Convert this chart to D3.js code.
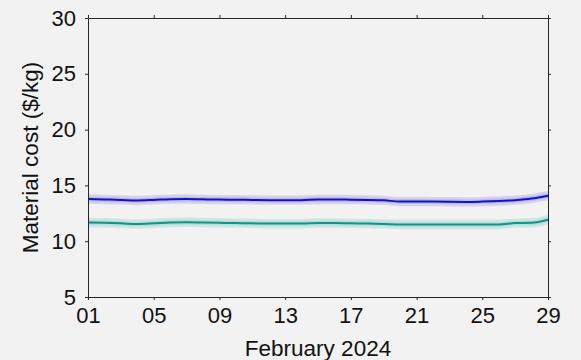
<!DOCTYPE html>
<html>
<head>
<meta charset="utf-8">
<script src="https://cdn.jsdelivr.net/npm/d3@7"></script>
<style>
  body { margin: 0; background: #f2f2f2; }
  svg { display: block; font-family: "Liberation Sans", Arial, sans-serif; }
</style>
</head>
<body>
<svg id="chart" width="581" height="360"></svg>
<script>
// days of February 2024
const days = d3.range(1, 30);
const blueCost = [13.78, 13.74, 13.70, 13.65, 13.70, 13.77, 13.78, 13.75, 13.73, 13.72,
  13.70, 13.68, 13.68, 13.68, 13.74, 13.74, 13.72, 13.70, 13.66, 13.56,
  13.56, 13.55, 13.53, 13.52, 13.55, 13.60, 13.68, 13.82, 14.08];
const tealCost = [11.68, 11.65, 11.60, 11.54, 11.60, 11.68, 11.70, 11.68, 11.65, 11.62,
  11.60, 11.58, 11.58, 11.58, 11.63, 11.63, 11.60, 11.58, 11.55, 11.50,
  11.50, 11.50, 11.50, 11.50, 11.50, 11.50, 11.62, 11.65, 11.92];
const xTicks = [1, 5, 9, 13, 17, 21, 25, 29];
const yTicks = [5, 10, 15, 20, 25, 30];

const series = [
  { values: blueCost, line: "#1212c4", band: "#6a6ad8" },
  { values: tealCost, line: "#139486", band: "#52bdb2" }
];

const margin = { top: 18, right: 33, bottom: 63, left: 88 };
const width = 581, height = 360;
const svg = d3.select("#chart");

const x = d3.scaleLinear().domain([1, 29]).range([margin.left, width - margin.right]);
const y = d3.scaleLinear().domain([5, 30]).range([height - margin.bottom, margin.top]);

// bands + lines
series.forEach(s => {
  [0.42, 0.22].forEach(w => {
    svg.append("path")
      .datum(days)
      .attr("fill", s.band)
      .attr("fill-opacity", 0.22)
      .attr("d", d3.area()
        .x(d => x(d))
        .y0(d => y(s.values[d - 1] - w))
        .y1(d => y(s.values[d - 1] + w))
        .curve(d3.curveMonotoneX));
  });
  svg.append("path")
    .datum(days)
    .attr("fill", "none")
    .attr("stroke", s.line)
    .attr("stroke-width", 2)
    .attr("d", d3.line()
      .x(d => x(d))
      .y(d => y(s.values[d - 1]))
      .curve(d3.curveMonotoneX));
});

const fmt = d => d3.format("02d")(d);
const axisColor = "#262626";

function styleAxis(g, labels) {
  g.select(".domain").attr("stroke", axisColor);
  g.selectAll(".tick line").attr("stroke", axisColor);
  g.selectAll(".tick text")
    .attr("fill", labels ? "#111" : "none")
    .style("font-size", "22px");
}

svg.append("g")
  .attr("transform", `translate(0,${y(5)})`)
  .call(d3.axisBottom(x).tickValues(xTicks).tickFormat(fmt).tickSize(3).tickSizeOuter(0).tickPadding(7))
  .call(g => styleAxis(g, true));

svg.append("g")
  .attr("transform", `translate(0,${y(30)})`)
  .call(d3.axisTop(x).tickValues(xTicks).tickFormat("").tickSize(3).tickSizeOuter(0))
  .call(g => styleAxis(g, false));

svg.append("g")
  .attr("transform", `translate(${x(1)},0)`)
  .call(d3.axisLeft(y).tickValues(yTicks).tickSize(3).tickSizeOuter(0).tickPadding(9))
  .call(g => styleAxis(g, true));

svg.append("g")
  .attr("transform", `translate(${x(29)},0)`)
  .call(d3.axisRight(y).tickValues(yTicks).tickFormat("").tickSize(3).tickSizeOuter(0))
  .call(g => styleAxis(g, false));

svg.append("text")
  .attr("x", (x(1) + x(29)) / 2)
  .attr("y", 356)
  .attr("text-anchor", "middle")
  .attr("fill", "#111")
  .style("font-size", "22.5px")
  .text("February 2024");

svg.append("text")
  .attr("transform", `translate(37.5,${(y(5) + y(30)) / 2}) rotate(-90)`)
  .attr("text-anchor", "middle")
  .attr("fill", "#111")
  .style("font-size", "22.5px")
  .text("Material cost ($/kg)");
</script>
</body>
</html>
